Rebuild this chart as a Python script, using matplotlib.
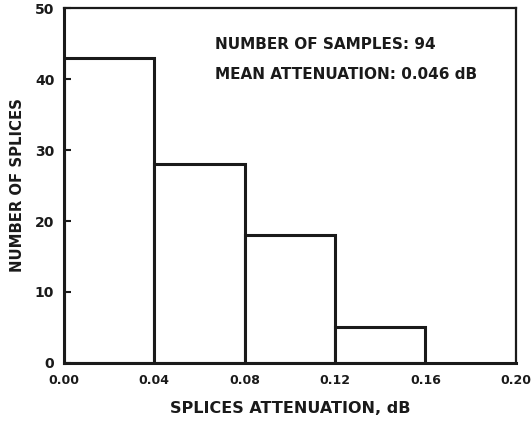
import matplotlib.pyplot as plt
import numpy as np

# splice loss histogram
bin_edges = [0.00, 0.04, 0.08, 0.12, 0.16]
counts = [43, 28, 18, 5]
x_ticks = [0.00, 0.04, 0.08, 0.12, 0.16, 0.20]
x_labels = ["0.00", "0.04", "0.08", "0.12", "0.16", "0.20"]
y_ticks = [0, 10, 20, 30, 40, 50]
n_samples = 94
mean_att = 0.046

plt.rcParams['font.family'] = ['DejaVu Sans']
plt.rcParams['font.weight'] = 'bold'
ink = '#1a1a1a'

fig = plt.figure(figsize=(5.31, 4.28), dpi=100)
ax = fig.add_axes([0.1205, 0.152, 0.851, 0.829])

widths = np.diff(bin_edges)
ax.bar(bin_edges[:-1], counts, width=widths, align='edge',
       facecolor='white', edgecolor=ink, linewidth=2.2)

ax.set_xlim(0, 0.20)
ax.set_ylim(0, 50)
ax.set_xticks(x_ticks)
ax.set_xticklabels(x_labels)
ax.set_yticks(y_ticks)
ax.tick_params(axis='x', length=0, pad=8, labelsize=9, colors=ink)
ax.tick_params(axis='y', direction='in', length=5, width=1.5, pad=7,
               labelsize=10, colors=ink)

for side in ['left', 'bottom']:
    ax.spines[side].set_linewidth(2.2)
for side in ['top', 'right']:
    ax.spines[side].set_linewidth(1.6)
for s in ax.spines.values():
    s.set_color(ink)

ax.set_xlabel("SPLICES ATTENUATION, dB", fontsize=11.5, labelpad=10,
              fontweight='bold', color=ink)
ax.set_ylabel("NUMBER OF SPLICES", fontsize=10.7, labelpad=7,
              fontweight='bold', color=ink)

ax.text(0.0668, 44.9, f"NUMBER OF SAMPLES: {n_samples}", fontsize=11,
        fontweight='bold', va='center', color=ink)
ax.text(0.0668, 40.6, f"MEAN ATTENUATION: {mean_att:.3f} dB", fontsize=11,
        fontweight='bold', va='center', color=ink)

fig.savefig("out.png", dpi=100)
